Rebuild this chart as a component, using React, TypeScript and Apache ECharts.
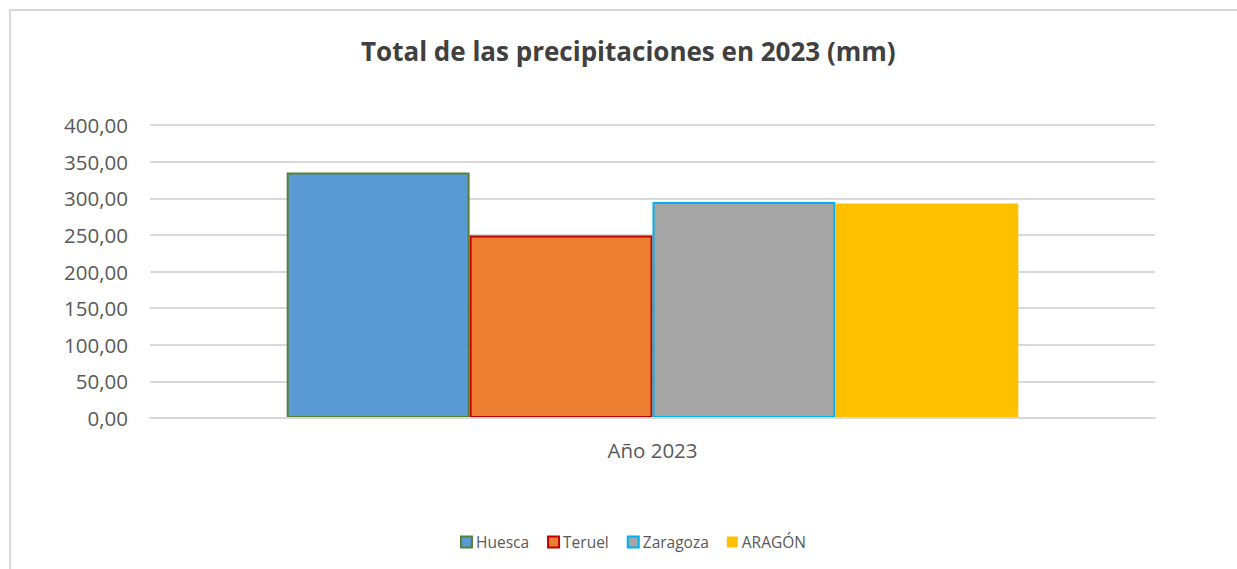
import React, { useEffect, useRef } from "react";
import * as echarts from "echarts";

const categories = ["Año 2023"];
const seriesNames = ["Huesca", "Teruel", "Zaragoza", "ARAGÓN"];
const seriesValues = [335, 249, 295, 293];
const fillColors = ["#5b9bd5", "#ed7d31", "#a5a5a5", "#ffc000"];
const borderColors = ["#548235", "#c00000", "#00b0f0", "#ffc000"];
const borderWidths = [2, 2, 2, 0];
const yTicks = { min: 0, max: 400, interval: 50 };

export default function App() {
  const ref = useRef<HTMLDivElement>(null);
  useEffect(() => {
    if (!ref.current) return;
    const chart = echarts.init(ref.current, null, { renderer: "svg" });
    const font = "'Open Sans', 'Noto Sans', sans-serif";
    chart.setOption({
      animation: false,
      backgroundColor: "#ffffff",
      textStyle: { fontFamily: font },
      title: {
        text: "Total de las precipitaciones en 2023 (mm)",
        left: 356,
        top: 33,
        textStyle: { fontSize: 26, fontWeight: "bold", color: "#404040", fontFamily: font },
      },
      graphic: [
        {
          type: "rect",
          shape: { x: 10, y: 10, width: 1240, height: 580 },
          style: { fill: "none", stroke: "#d9d9d9", lineWidth: 2 },
          silent: true,
          z: -1,
        },
      ],
      legend: {
        bottom: 14,
        left: 455,
        itemWidth: 11,
        itemHeight: 11,
        itemGap: 18,
        icon: "rect",
        textStyle: { fontSize: 15.5, color: "#595959", fontFamily: font, padding: [0, 0, 0, -1] },
        data: seriesNames,
      },
      grid: { left: 150, right: 82, top: 125, bottom: 151 },
      xAxis: {
        type: "category",
        data: categories,
        z: 5,
        axisLine: { show: true, lineStyle: { color: "#d9d9d9", width: 2 } },
        axisTick: { show: false },
        axisLabel: { fontSize: 20.5, color: "#595959", margin: 21, fontFamily: font },
      },
      yAxis: {
        type: "value",
        min: yTicks.min,
        max: yTicks.max,
        interval: yTicks.interval,
        axisLine: { show: false },
        axisTick: { show: false },
        splitLine: { lineStyle: { color: "#d9d9d9", width: 2 } },
        axisLabel: {
          fontSize: 20.5,
          color: "#595959",
          margin: 22,
          fontFamily: font,
          formatter: (v: number) => v.toFixed(2).replace(".", ","),
        },
      },
      series: seriesNames.map((name, i) => ({
        name,
        type: "bar",
        data: [seriesValues[i]],
        barGap: "0%",
        barCategoryGap: "27.2%",
        itemStyle: {
          color: fillColors[i],
          borderColor: borderColors[i],
          borderWidth: borderWidths[i],
        },
      })),
    });
    return () => chart.dispose();
  }, []);
  return (
    <div
      ref={ref}
      style={{ position: "fixed", left: 0, top: 0, width: 1237, height: 569 }}
    />
  );
}
